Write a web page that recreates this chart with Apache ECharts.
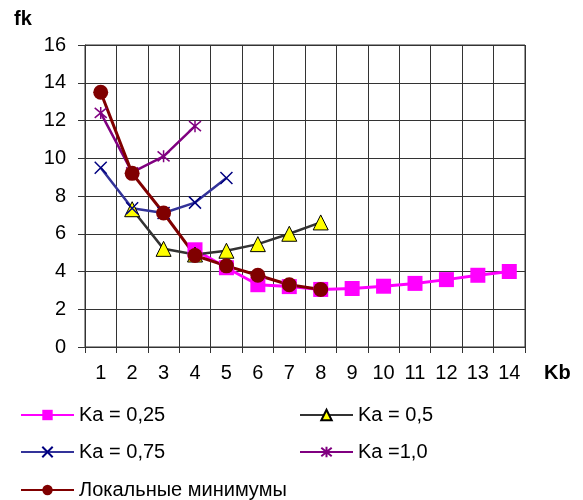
<!DOCTYPE html>
<html>
<head>
<meta charset="utf-8">
<script src="https://cdn.jsdelivr.net/npm/echarts@6/dist/echarts.min.js"></script>
<style>
	html, body { margin: 0; padding: 0; background: #fff; }
	#chart { width: 583px; height: 500px; }
</style>
</head>
<body>
<div id="chart"></div>
<script>
// значения по оси Kb
var kbCategories = ['1', '2', '3', '4', '5', '6', '7', '8', '9', '10', '11', '12', '13', '14'];
// fk для разных Ka
var ka025 = [null, null, null, 5.15, 4.2, 3.3, 3.2, 3.05, 3.1, 3.22, 3.37, 3.57, 3.8, 4.0];
var ka05 = [null, 7.3, 5.2, 4.9, 5.1, 5.45, 6.0, 6.6, null, null, null, null, null, null];
var ka075 = [9.5, 7.35, 7.1, 7.65, 8.95, null, null, null, null, null, null, null, null, null];
var ka10 = [12.4, 9.25, 10.1, 11.7, null, null, null, null, null, null, null, null, null, null];
var localMin = [13.5, 9.2, 7.1, 4.85, 4.3, 3.8, 3.3, 3.05, null, null, null, null, null, null];
var seriesNames = ['Ka = 0,25', 'Ka = 0,5', 'Ka = 0,75', 'Ka =1,0', 'Локальные минимумы'];

var FONT = '"Liberation Sans", Arial, sans-serif';
var crossPath = 'path://M0,0L10,10M10,0L0,10';
var starPath = 'path://M0,0L10,10M10,0L0,10M5,-1L5,11';

// одна легенда на каждую серию, чтобы поставить их сеткой 2 колонки
function legendAt(name, left, top) {
	return {
		data: [name],
		left: left,
		top: top,
		padding: 0,
		itemWidth: 53,
		itemHeight: 13,
		itemGap: 0,
		itemTextGap: 5,
		selectedMode: false,
		textStyle: { fontFamily: FONT, fontSize: 20, color: '#000' }
	};
}

var chart = echarts.init(document.getElementById('chart'), null, { renderer: 'canvas' });
var option = {
	animation: false,
	backgroundColor: '#fff',
	textStyle: { fontFamily: FONT },
	grid: {
		left: 85, top: 45, width: 440, height: 302,
		show: true, borderColor: '#333', borderWidth: 1
	},
	legend: [
		legendAt(seriesNames[0], 20, 405),
		legendAt(seriesNames[1], 299, 405),
		legendAt(seriesNames[2], 20, 442),
		legendAt(seriesNames[3], 299, 442),
		legendAt(seriesNames[4], 20, 480)
	],
	graphic: [
		{ type: 'text', left: 14, top: 9, style: { text: 'fk', font: 'bold 20px ' + FONT, fill: '#000' } },
		{ type: 'text', left: 544, top: 363, style: { text: 'Kb', font: 'bold 20px ' + FONT, fill: '#000' } }
	],
	xAxis: {
		type: 'category',
		data: kbCategories,
		boundaryGap: true,
		axisLine: { lineStyle: { color: '#333', width: 1 } },
		axisTick: { show: true, length: 6, inside: false, lineStyle: { color: '#333' } },
		axisLabel: { color: '#000', fontSize: 20, fontFamily: FONT, margin: 16 },
		splitLine: { show: true, lineStyle: { color: '#333', width: 1 } }
	},
	yAxis: {
		type: 'value',
		min: 0, max: 16, interval: 2,
		axisLine: { show: true, lineStyle: { color: '#333', width: 1 } },
		axisTick: { show: true, length: 7, lineStyle: { color: '#333' } },
		axisLabel: { color: '#000', fontSize: 20, fontFamily: FONT, margin: 19 },
		splitLine: { show: true, lineStyle: { color: '#333', width: 1 } }
	},
	series: [
		{
			name: seriesNames[0], type: 'line', data: ka025,
			symbol: 'rect', symbolSize: 15,
			lineStyle: { color: '#FF00FF', width: 3 },
			itemStyle: { color: '#FF00FF' }
		},
		{
			name: seriesNames[1], type: 'line', data: ka05,
			symbol: 'triangle', symbolSize: 15,
			lineStyle: { color: '#333333', width: 2.5 },
			itemStyle: { color: '#FFFF00', borderColor: '#000', borderWidth: 1 }
		},
		{
			name: seriesNames[2], type: 'line', data: ka075,
			symbol: crossPath, symbolSize: 12,
			lineStyle: { color: '#333399', width: 2.5 },
			itemStyle: { color: 'transparent', borderColor: '#000080', borderWidth: 1.5 }
		},
		{
			name: seriesNames[3], type: 'line', data: ka10,
			symbol: starPath, symbolSize: 12,
			lineStyle: { color: '#800080', width: 2.5 },
			itemStyle: { color: 'transparent', borderColor: '#800080', borderWidth: 1.5 }
		},
		{
			name: seriesNames[4], type: 'line', data: localMin,
			symbol: 'circle', symbolSize: 15,
			lineStyle: { color: '#800000', width: 3 },
			itemStyle: { color: '#800000' }
		}
	]
};
chart.setOption(option);
</script>
</body>
</html>
